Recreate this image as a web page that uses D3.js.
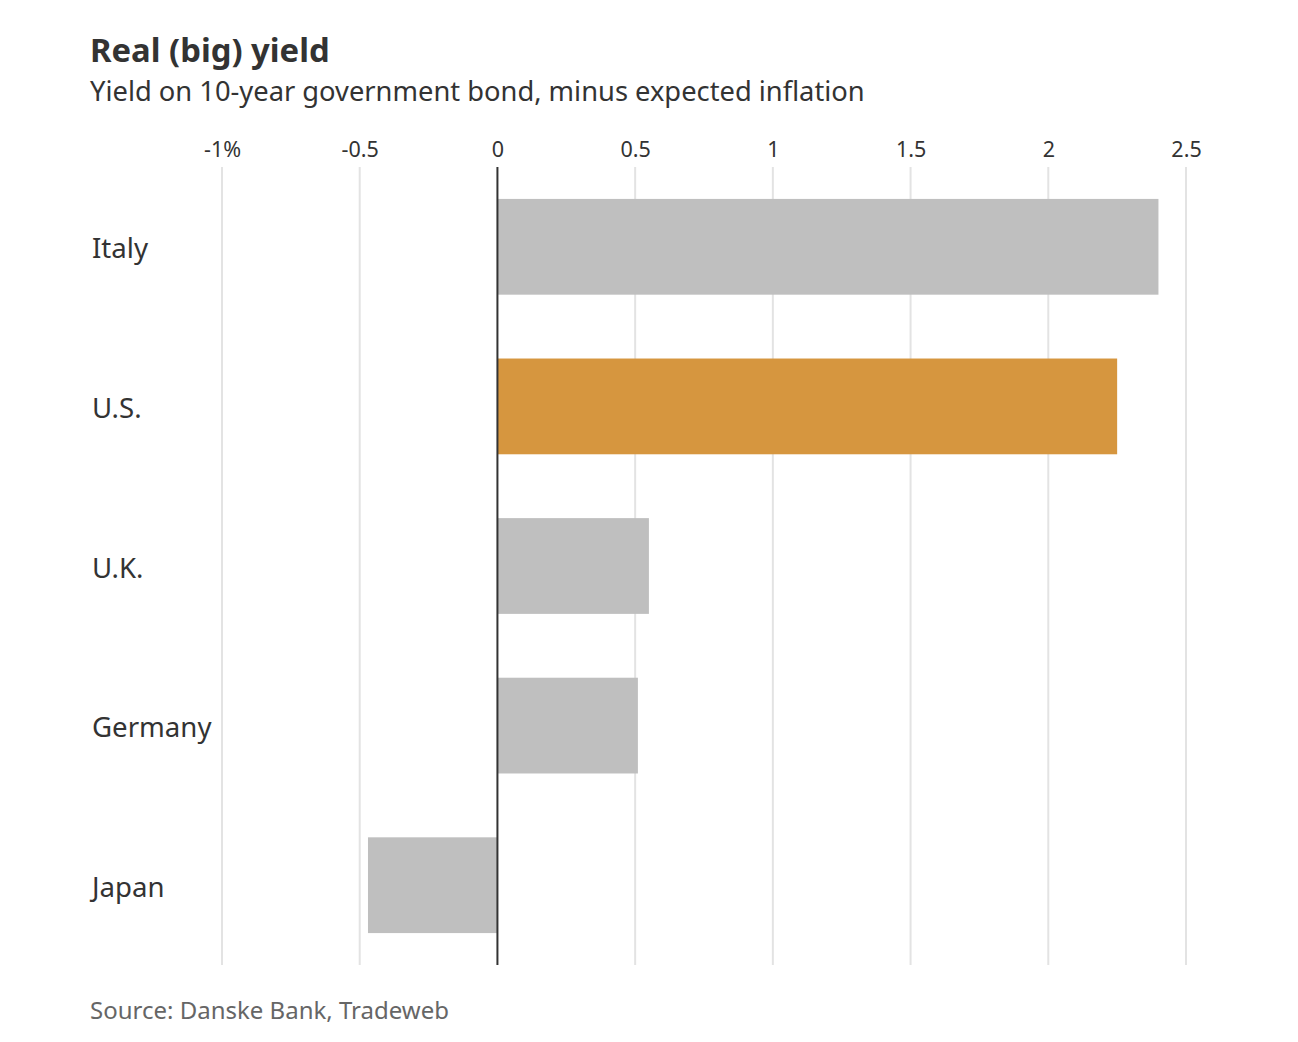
<!DOCTYPE html>
<html>
<head>
<meta charset="utf-8">
<script src="https://cdn.jsdelivr.net/npm/d3@7"></script>
<style>
  body { margin: 0; background: #fff; }
  svg { display: block; }
</style>
</head>
<body>
<svg id="chart" width="1298" height="1042"></svg>
<script>
const categories = ["Italy", "U.S.", "U.K.", "Germany", "Japan"];
const values = [2.40, 2.25, 0.55, 0.51, -0.47];
const highlight = ["U.S."];
const tickValues = [-1, -0.5, 0, 0.5, 1, 1.5, 2, 2.5];
const tickLabels = ["-1%", "-0.5", "0", "0.5", "1", "1.5", "2", "2.5"];

const title = "Real (big) yield";
const subtitle = "Yield on 10-year government bond, minus expected inflation";
const source = "Source: Danske Bank, Tradeweb";

const svg = d3.select("#chart");
const font = "'Noto Sans', 'Open Sans', sans-serif";

const x = d3.scaleLinear().domain([-1, 2.5]).range([222, 1186]);
const y = d3.scaleBand().domain(categories).range([167, 965]).paddingInner(0.4).paddingOuter(0.2);

svg.append("text").attr("x", 90).attr("y", 62)
  .attr("font-family", font).attr("font-weight", 700).attr("font-size", 32.8)
  .attr("fill", "#333").text(title);
svg.append("text").attr("x", 90).attr("y", 101)
  .attr("font-family", font).attr("font-size", 27.3)
  .attr("fill", "#333").text(subtitle);

const ax = d3.axisTop(x).tickValues(tickValues)
  .tickFormat((d, i) => tickLabels[i]).tickSize(0).tickPadding(0);
const g = svg.append("g").attr("transform", "translate(0,157)").call(ax);
g.select(".domain").remove();
g.selectAll("text").attr("font-family", font).attr("font-size", 21.5).attr("fill", "#333")
  .attr("dy", 0);

svg.append("g").selectAll("line").data(tickValues.filter(d => d !== 0)).join("line")
  .attr("x1", d => x(d)).attr("x2", d => x(d))
  .attr("y1", 167).attr("y2", 965)
  .attr("stroke", "#e3e3e3").attr("stroke-width", 2);

svg.append("g").selectAll("rect").data(categories).join("rect")
  .attr("x", (d, i) => x(Math.min(0, values[i])))
  .attr("width", (d, i) => Math.abs(x(values[i]) - x(0)))
  .attr("y", d => y(d)).attr("height", y.bandwidth())
  .attr("fill", d => highlight.includes(d) ? "#d6963f" : "#bfbfbf");

svg.append("line").attr("x1", x(0)).attr("x2", x(0))
  .attr("y1", 167).attr("y2", 965).attr("stroke", "#333").attr("stroke-width", 2);

svg.append("g").selectAll("text").data(categories).join("text")
  .attr("x", 92).attr("y", d => y(d) + y.bandwidth() / 2 + 2)
  .attr("dy", "0.35em")
  .attr("font-family", font).attr("font-size", 27.6).attr("fill", "#333")
  .text(d => d);

svg.append("text").attr("x", 90).attr("y", 1019)
  .attr("font-family", font).attr("font-size", 24)
  .attr("fill", "#666").text(source);
</script>
</body>
</html>
